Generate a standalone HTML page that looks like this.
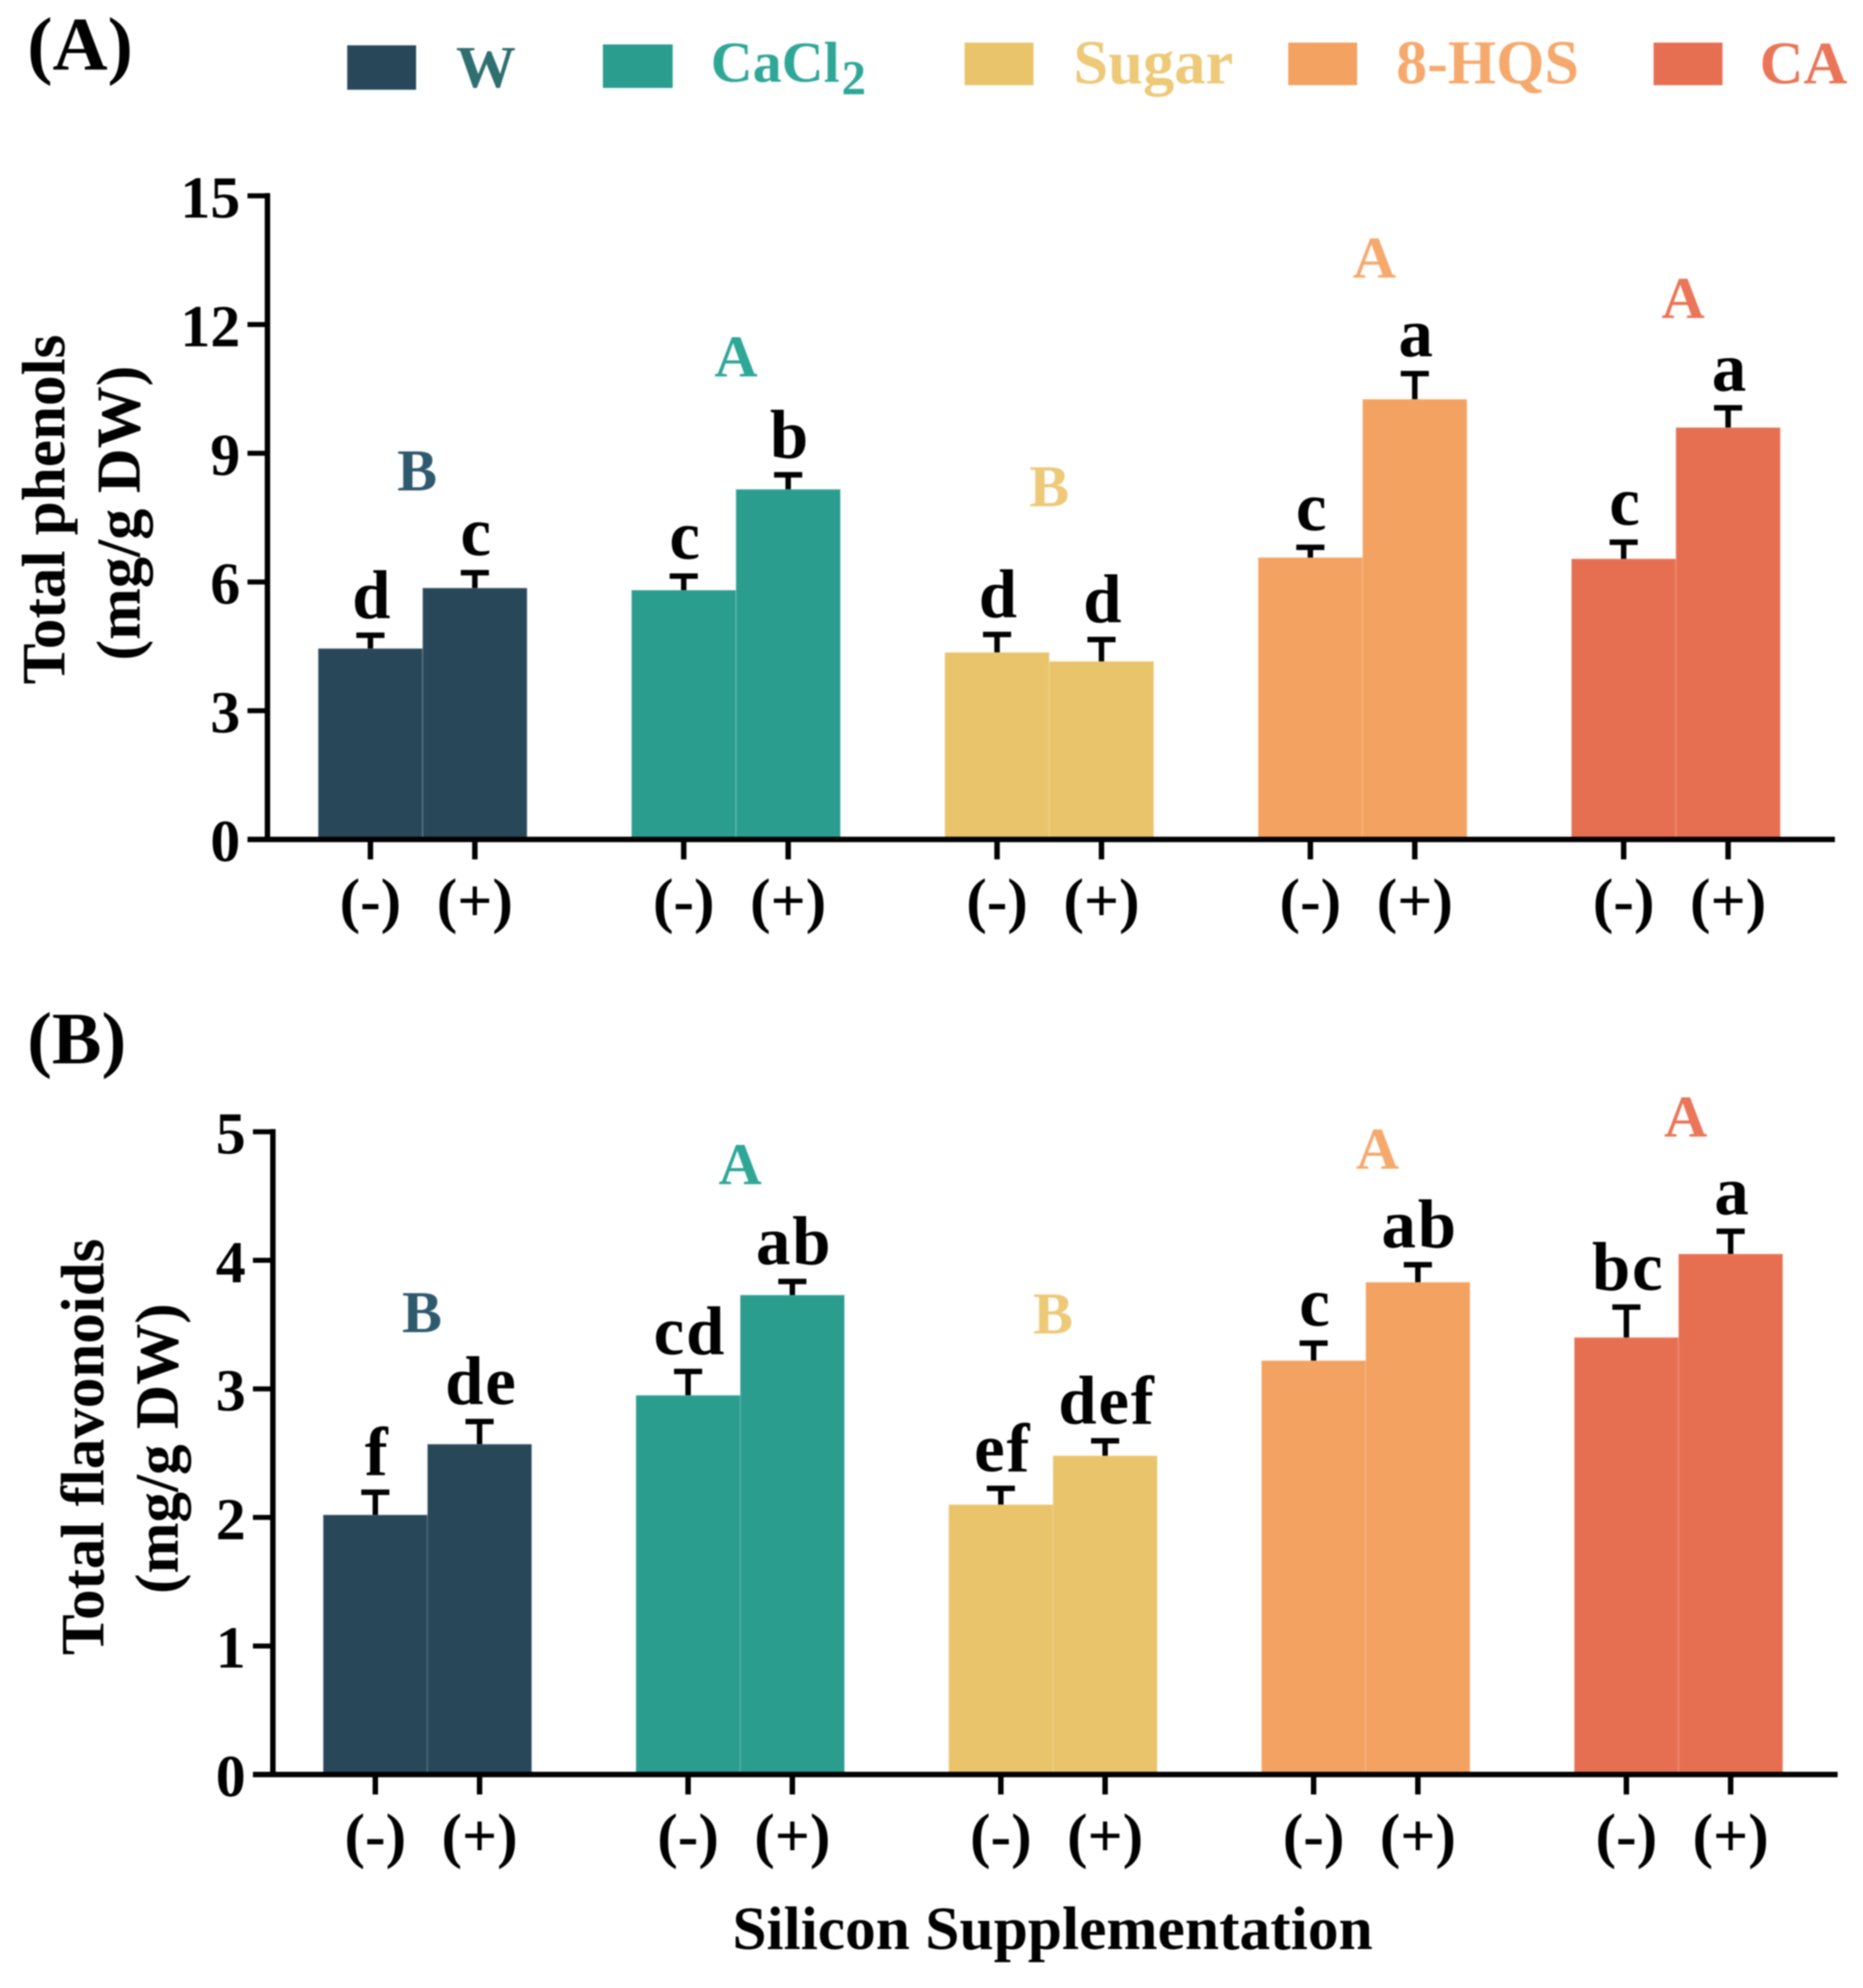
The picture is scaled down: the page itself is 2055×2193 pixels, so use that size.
<!DOCTYPE html>
<html lang="en">
<head>
<meta charset="utf-8">
<title>Total phenols and flavonoids</title>
<style>
html,body{margin:0;padding:0;background:#fff;}
#chart{display:block;width:2055px;height:2193px;filter:blur(0.9px);}
text{font-family:"Liberation Serif",serif;font-weight:bold;}
</style>
</head>
<body>
<svg id="chart" xmlns="http://www.w3.org/2000/svg" width="2055" height="2193" viewBox="0 0 2055 2193">
  <rect x="0" y="0" width="2055" height="2193" fill="#ffffff"/>

  <text x="30" y="77" font-size="84" fill="#000">(A)</text>
  <text x="30" y="1173" font-size="82" fill="#000">(B)</text>

  <g>
    <rect x="383" y="50" width="76" height="49" fill="#28485a"/>
    <text x="503" y="96" font-size="66" fill="#2f6f70">W</text>
    <rect x="665" y="49" width="77" height="48" fill="#2a9d8f"/>
    <text x="784" y="90" font-size="64" fill="#2fa797">CaCl<tspan font-size="54" dy="14" dx="2">2</tspan></text>
    <rect x="1064" y="47" width="76" height="47" fill="#e9c46a"/>
    <text x="1184" y="92" font-size="69" fill="#edc978">Sugar</text>
    <rect x="1421" y="47" width="76" height="47" fill="#f4a261"/>
    <text x="1540" y="92" font-size="68.5" fill="#f6a96d">8-HQS</text>
    <rect x="1824" y="47" width="76" height="47" fill="#e76f51"/>
    <text x="1941" y="92" font-size="67" fill="#ea7558">CA</text>
  </g>

  <g id="panel-a"></g>
  <g id="panel-b"></g>

  <text text-anchor="middle" font-size="67.5" fill="#000" transform="translate(71 562) rotate(-90)">Total phenols</text>
  <text text-anchor="middle" font-size="68.5" fill="#000" transform="translate(154 566) rotate(-90)">(mg/g DW)</text>
  <text text-anchor="middle" font-size="67.3" fill="#000" transform="translate(114 1596) rotate(-90)">Total flavonoids</text>
  <text text-anchor="middle" font-size="67.5" fill="#000" transform="translate(196 1598) rotate(-90)">(mg/g DW)</text>
  <text x="1161" y="2150" text-anchor="middle" font-size="67.8" fill="#000">Silicon Supplementation</text>
</svg>

<script>
const categories = ["W", "CaCl2", "Sugar", "8-HQS", "CA"];
const sides = ["(-)", "(+)"];

const phenolsMeans = [4.45, 5.86, 5.81, 8.16, 4.36, 4.15, 6.57, 10.26, 6.54, 9.6];
const phenolsErrors = [0.35, 0.40, 0.37, 0.38, 0.46, 0.55, 0.28, 0.64, 0.43, 0.5];
const phenolsLetters = ["d", "c", "c", "b", "d", "d", "c", "a", "c", "a"];
const phenolsGroupLetters = ["B", "A", "B", "A", "A"];
const phenolsGroupLetterLevels = [8.13, 10.78, 7.76, 13.09, 12.15];
const phenolsTicks = [0, 3, 6, 9, 12, 15];

const flavonoidsMeans = [2.02, 2.57, 2.95, 3.73, 2.10, 2.48, 3.22, 3.83, 3.40, 4.05];
const flavonoidsErrors = [0.19, 0.19, 0.20, 0.12, 0.14, 0.13, 0.15, 0.15, 0.25, 0.19];
const flavonoidsLetters = ["f", "de", "cd", "ab", "ef", "def", "c", "ab", "bc", "a"];
const flavonoidsGroupLetters = ["B", "A", "B", "A", "A"];
const flavonoidsGroupLetterLevels = [3.44, 4.59, 3.43, 4.71, 4.96];
const flavonoidsTicks = [0, 1, 2, 3, 4, 5];

const barColors = ["#28485a", "#2a9d8f", "#e9c46a", "#f4a261", "#e76f51"];
const groupLetterColors = ["#2f5a6e", "#2fa797", "#edc978", "#f6a96d", "#ea7558"];

const SVG_NS = "http://www.w3.org/2000/svg";

function groupLetterNudge(group) {
  if (group === 0) return -6;
  if (group === 3) return 13;
  if (group === 4) return 8;
  return 0;
}

function makeLinear(domainMax, pxZero, pxMax) {
  return function (v) { return pxZero + (pxMax - pxZero) * v / domainMax; };
}

function makeBandX(start, barWidth) {
  return function (group, side) { return start + barWidth * (group * 3 + side); };
}

function addShape(parent, tag, attrs) {
  const el = document.createElementNS(SVG_NS, tag);
  Object.keys(attrs).forEach(function (k) { el.setAttribute(k, attrs[k]); });
  parent.appendChild(el);
  return el;
}

function drawPanel(cfg) {
  const root = document.getElementById(cfg.id);
  const y = makeLinear(cfg.ticks[cfg.ticks.length - 1], cfg.baseline, cfg.top);
  const barX = makeBandX(cfg.barStart, cfg.barWidth);
  const prefix = cfg.prefix;

  categories.forEach(function (cat, g) {
    sides.forEach(function (side, s) {
      const i = g * 2 + s;
      const left = barX(g, s);
      const center = left + cfg.barWidth / 2;
      const mean = cfg.means[i];
      const err = cfg.errors[i];
      const key = prefix + "-" + cat.toLowerCase() + (s === 0 ? "-minus" : "-plus");

      const bar = addShape(root, "rect", {
        x: left, y: y(mean), width: cfg.barWidth, height: cfg.baseline - y(mean),
        fill: barColors[g], stroke: "rgba(255,255,255,0.14)", "stroke-width": 1.5
      });
      
      

      const stem = addShape(root, "line", {
        x1: center, x2: center, y1: y(mean), y2: y(mean + err),
        stroke: "#000", "stroke-width": 6
      });
      
      

      const cap = addShape(root, "line", {
        x1: center - 15.5, x2: center + 15.5, y1: y(mean + err) + 2, y2: y(mean + err) + 2,
        stroke: "#000", "stroke-width": 6
      });
      
      

      const letter = addShape(root, "text", {
        x: center + 2, y: y(mean + err) - 17, "text-anchor": "middle",
        "font-size": 76, "letter-spacing": 2, fill: "#000"
      });
      letter.textContent = cfg.letters[i];
      
      

      const tick = addShape(root, "line", {
        x1: center, x2: center, y1: cfg.baseline, y2: cfg.baseline + 22,
        stroke: "#000", "stroke-width": 6
      });
      
      

      const tickLabel = addShape(root, "text", {
        x: center, y: cfg.baseline + 90, "text-anchor": "middle",
        "font-size": 68, fill: "#000"
      });
      tickLabel.textContent = side;
      
      
    });

    const groupLetter = addShape(root, "text", {
      x: barX(g, 1) + groupLetterNudge(g), y: y(cfg.groupLevels[g]), "text-anchor": "middle",
      "font-size": 66, fill: groupLetterColors[g]
    });
    groupLetter.textContent = cfg.groupLetters[g];
    
    
  });

  const yAxis = addShape(root, "line", {
    x1: cfg.axisX, x2: cfg.axisX, y1: y(cfg.ticks[cfg.ticks.length - 1]) - 3, y2: cfg.baseline + 3,
    stroke: "#000", "stroke-width": 6
  });
  
  

  const xAxis = addShape(root, "line", {
    x1: cfg.axisX - 22, x2: cfg.axisEnd, y1: cfg.baseline, y2: cfg.baseline,
    stroke: "#000", "stroke-width": 6
  });
  
  

  cfg.ticks.forEach(function (t) {
    const tick = addShape(root, "line", {
      x1: cfg.axisX - 22, x2: cfg.axisX, y1: y(t), y2: y(t),
      stroke: "#000", "stroke-width": 5.5
    });
    
    

    const label = addShape(root, "text", {
      x: cfg.axisX - 30, y: y(t) + 24, "text-anchor": "end",
      "font-size": 66, fill: "#000"
    });
    label.textContent = String(t);
    
    
  });
}

drawPanel({
  id: "panel-a", prefix: "phenols",
  means: phenolsMeans, errors: phenolsErrors, letters: phenolsLetters,
  groupLetters: phenolsGroupLetters, groupLevels: phenolsGroupLetterLevels, ticks: phenolsTicks,
  baseline: 926, top: 216, axisX: 295, axisEnd: 2024, barStart: 351, barWidth: 115.2
});

drawPanel({
  id: "panel-b", prefix: "flavonoids",
  means: flavonoidsMeans, errors: flavonoidsErrors, letters: flavonoidsLetters,
  groupLetters: flavonoidsGroupLetters, groupLevels: flavonoidsGroupLetterLevels, ticks: flavonoidsTicks,
  baseline: 1957.5, top: 1248.5, axisX: 301, axisEnd: 2027, barStart: 356.5, barWidth: 115
});
</script>
</body>
</html>
